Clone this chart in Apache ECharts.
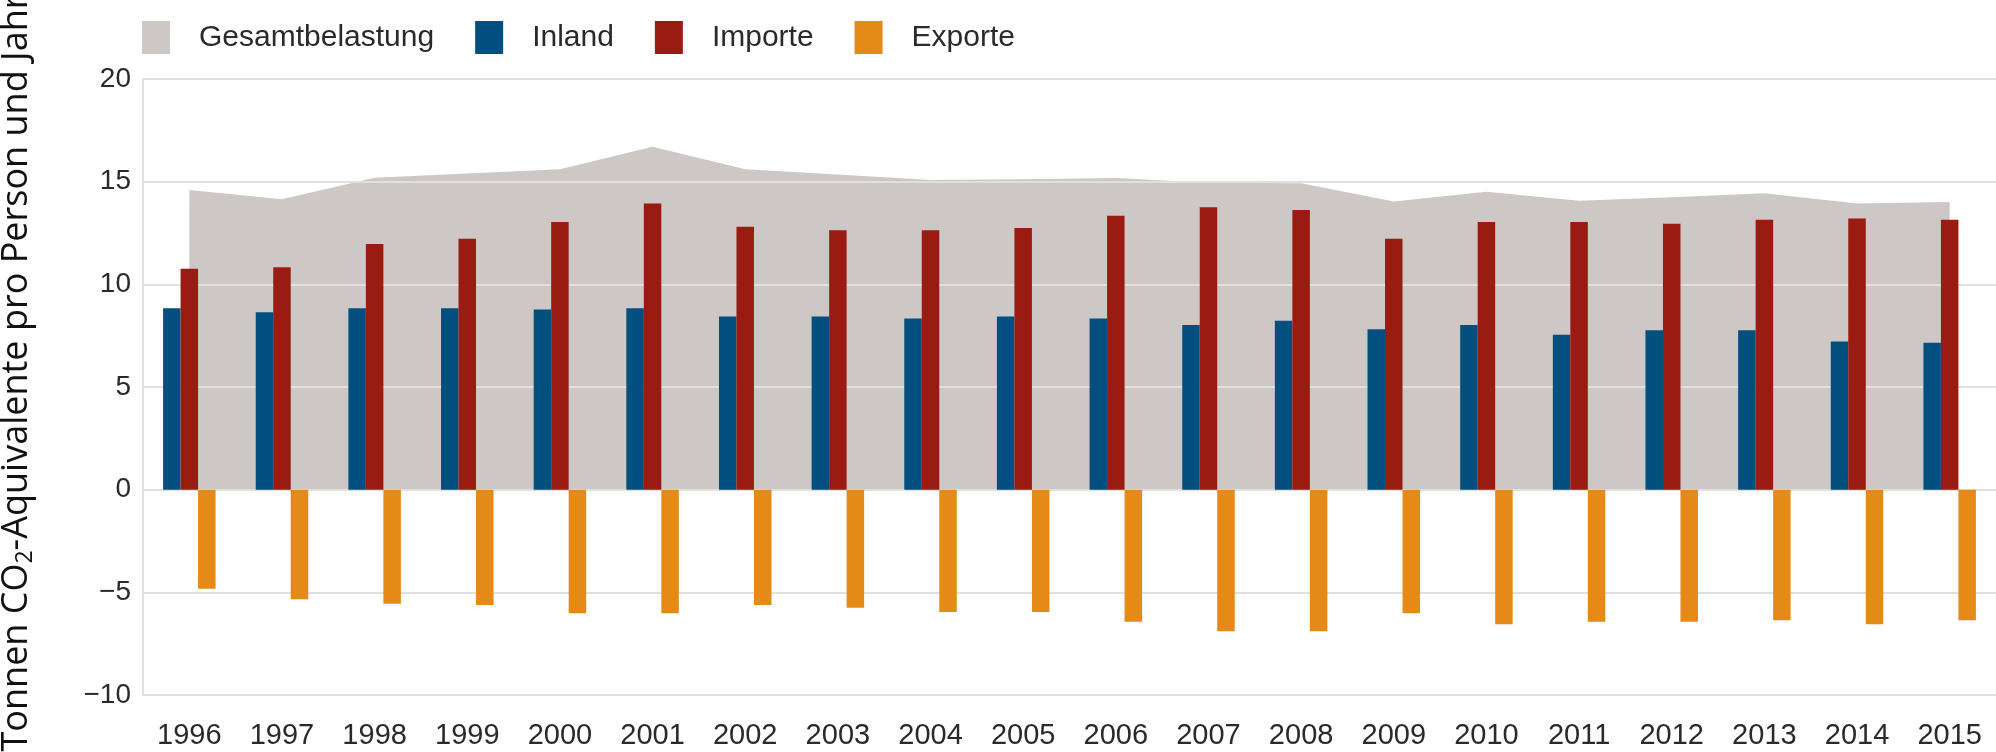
<!DOCTYPE html>
<html>
<head>
<meta charset="utf-8">
<script src="https://cdn.jsdelivr.net/npm/echarts@6/dist/echarts.min.js"></script>
<style>
  html, body { margin: 0; padding: 0; background: #ffffff; }
  #chart { width: 1996px; height: 752px; }
</style>
</head>
<body>
<div id="chart"></div>
<script>
// Emissions per person and year, tonnes CO2 equivalents
const years = ['1996', '1997', '1998', '1999', '2000', '2001', '2002', '2003', '2004', '2005',
               '2006', '2007', '2008', '2009', '2010', '2011', '2012', '2013', '2014', '2015'];
const gesamtbelastung = [14.59, 14.14, 15.19, 15.40, 15.60, 16.70, 15.60, 15.35, 15.08, 15.12,
                         15.18, 14.95, 14.92, 14.03, 14.51, 14.07, 14.24, 14.43, 13.94, 14.01];
const inland = [8.83, 8.64, 8.83, 8.83, 8.77, 8.83, 8.43, 8.43, 8.34, 8.43,
                8.34, 8.02, 8.23, 7.81, 8.02, 7.55, 7.76, 7.76, 7.22, 7.16];
const importe = [10.76, 10.83, 11.96, 12.22, 13.04, 13.94, 12.81, 12.63, 12.63, 12.74,
                 13.34, 13.75, 13.62, 12.22, 13.04, 13.04, 12.95, 13.15, 13.21, 13.15];
const exporte = [-4.82, -5.34, -5.55, -5.62, -6.02, -6.02, -5.62, -5.75, -5.96, -5.96,
                 -6.43, -6.90, -6.90, -6.02, -6.56, -6.43, -6.43, -6.36, -6.56, -6.36];
const yTicks = { min: -10, max: 20, step: 5 };

const colors = {
  gesamt: '#cdc8c6',
  inland: '#034f80',
  importe: '#9a1b12',
  exporte: '#e68a17'
};

const chart = echarts.init(document.getElementById('chart'), null, { renderer: 'canvas' });

const barWidth = 17.5;

chart.setOption({
  animation: false,
  backgroundColor: '#ffffff',
  legend: {
    left: 142,
    top: 21,
    padding: 0,
    itemWidth: 28,
    itemHeight: 33,
    itemGap: 41,
    icon: 'rect',
    data: ['Gesamtbelastung', 'Inland', 'Importe', 'Exporte'],
    textStyle: {
      fontFamily: 'Liberation Sans',
      fontSize: 30,
      color: '#2a2a2a',
      padding: [0, 0, 0, 24]
    }
  },
  grid: {
    left: 143,
    right: 0,
    top: 79,
    bottom: 57,
    containLabel: false,
    outerBoundsMode: 'none'
  },
  xAxis: {
    type: 'category',
    data: years,
    boundaryGap: true,
    axisLine: { show: false },
    axisTick: { show: false },
    axisLabel: {
      fontFamily: 'Liberation Sans',
      fontSize: 29,
      color: '#2a2a2a',
      margin: 26
    }
  },
  yAxis: {
    type: 'value',
    min: yTicks.min,
    max: yTicks.max,
    interval: yTicks.step,
    name: '{a|Tonnen CO}{s|2}{a|-Äquivalente pro Person und Jahr}',
    nameLocation: 'middle',
    nameRotate: 90,
    nameGap: 106,
    nameTextStyle: {
      padding: [0, 0, 0, 28],
      rich: {
        a: { fontFamily: 'Open Sans', fontSize: 36, color: '#111111', lineHeight: 41 },
        s: { fontFamily: 'Open Sans', fontSize: 23, color: '#111111', lineHeight: 23, verticalAlign: 'bottom' }
      }
    },
    axisLine: { show: true, lineStyle: { color: '#dedede', width: 2 } },
    axisTick: { show: false },
    splitLine: { show: true, lineStyle: { color: '#e2e0df', width: 2 } },
    axisLabel: {
      fontFamily: 'Liberation Sans',
      fontSize: 28,
      color: '#2a2a2a',
      margin: 12,
      formatter: v => (v < 0 ? '\u2212' + Math.abs(v) : String(v))
    }
  },
  series: [
    {
      name: 'Gesamtbelastung',
      type: 'line',
      data: gesamtbelastung,
      z: -1,
      showSymbol: false,
      symbol: 'none',
      itemStyle: { color: colors.gesamt },
      lineStyle: { width: 0, color: colors.gesamt },
      areaStyle: { color: colors.gesamt, opacity: 1 }
    },
    {
      name: 'Inland',
      type: 'bar',
      data: inland,
      barWidth: barWidth,
      barGap: '0%',
      itemStyle: { color: colors.inland }
    },
    {
      name: 'Importe',
      type: 'bar',
      data: importe,
      barWidth: barWidth,
      barGap: '0%',
      itemStyle: { color: colors.importe }
    },
    {
      name: 'Exporte',
      type: 'bar',
      data: exporte,
      barWidth: barWidth,
      barGap: '0%',
      itemStyle: { color: colors.exporte }
    }
  ]
});
</script>
</body>
</html>
